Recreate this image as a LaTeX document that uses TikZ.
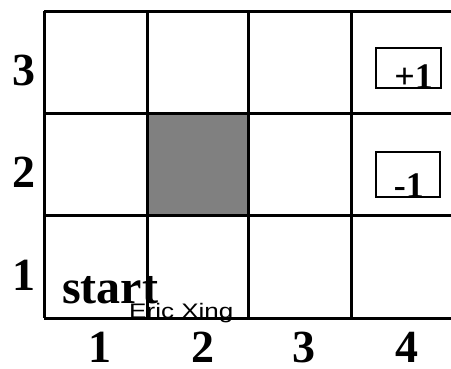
\documentclass[tikz,border=0pt]{standalone}
\usepackage{fontspec}
\setmainfont{Liberation Serif}
\newfontfamily\arialf{Liberation Sans}
\begin{document}
\begin{tikzpicture}[x=1pt,y=-1pt,
  gridline/.style={line width=3pt},
  rewardbox/.style={draw,line width=2pt},
  lbl/.style={inner sep=0pt,anchor=base,font=\bfseries\fontsize{46}{46}\selectfont},
  rewardtxt/.style={inner sep=0pt,anchor=base east,font=\bfseries\fontsize{36}{36}\selectfont}]
\useasboundingbox (0,0) rectangle (451,368);
\begin{scope}
\clip (0,0) rectangle (451,368);
\fill[gray] (147,113) rectangle (248,215);
\foreach \x in {44,147,248,351} \draw[gridline] (\x,11) -- (\x,318);
\foreach \y in {11,113,215,318} \draw[gridline] (44,\y) -- (460,\y);
\end{scope}
\draw[rewardbox] (376,48) rectangle (441,88);
\draw[rewardbox] (376,152) rectangle (440,197);
\node[rewardtxt] (plus) at (433,88) {+1};
\node[rewardtxt] (minus) at (424,197) {-1};
\node[lbl] (r3) at (24,85) {3};
\node[lbl] (r2) at (24,187) {2};
\node[lbl] (r1) at (24,290) {1};
\node[lbl] (c1) at (100,362) {1};
\node[lbl] (c2) at (203,362) {2};
\node[lbl] (c3) at (304,362) {3};
\node[lbl] (c4) at (407,362) {4};
\node[inner sep=0pt,anchor=base west,font=\bfseries\fontsize{48}{48}\selectfont] (start) at (62,303) {start};
\node[inner sep=0pt,anchor=base west,xscale=1.24,font=\arialf\fontsize{21}{21}\selectfont] (eric) at (129,318) {Eric Xing};
\end{tikzpicture}
\end{document}
